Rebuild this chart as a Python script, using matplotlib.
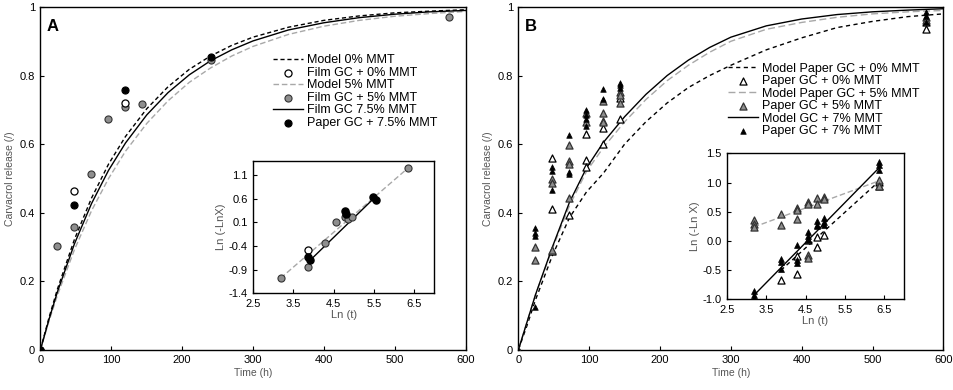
import matplotlib
matplotlib.use("Agg")
import matplotlib.pyplot as plt

plt.rcParams['font.family'] = ['Liberation Sans', 'DejaVu Sans']

# ---- panel A: model curves ----
t_model = [0, 12, 24, 48, 72, 96, 120, 150, 180, 210, 240, 270, 300, 350, 400, 450, 500, 550, 600]
a_model0 = [0, 0.093, 0.177, 0.322, 0.442, 0.541, 0.622, 0.703, 0.767, 0.818, 0.857, 0.888, 0.912,
            0.941, 0.961, 0.974, 0.983, 0.988, 0.992]
a_model5 = [0, 0.083, 0.159, 0.292, 0.405, 0.499, 0.579, 0.660, 0.726, 0.780, 0.822, 0.857, 0.885,
            0.920, 0.944, 0.961, 0.973, 0.981, 0.987]
a_model75 = [0, 0.088, 0.169, 0.309, 0.426, 0.523, 0.603, 0.685, 0.750, 0.802, 0.843, 0.875, 0.901,
             0.933, 0.954, 0.969, 0.979, 0.986, 0.990]

# panel A measured points
a_film0_t = [0, 48, 120]
a_film0 = [0, 0.464, 0.720]
a_film5_t = [0, 24, 48, 72, 96, 120, 144, 240, 576]
a_film5 = [0, 0.302, 0.359, 0.513, 0.673, 0.707, 0.718, 0.845, 0.972]
a_paper75_t = [0, 48, 120, 240]
a_paper75 = [0, 0.423, 0.759, 0.853]

# ---- panel B ----
b_model0 = [0, 0.070, 0.145, 0.275, 0.385, 0.460, 0.515, 0.600, 0.665, 0.720, 0.765, 0.800, 0.830,
            0.875, 0.910, 0.940, 0.958, 0.972, 0.980]
b_model5 = [0, 0.080, 0.160, 0.295, 0.420, 0.520, 0.590, 0.665, 0.730, 0.785, 0.830, 0.868, 0.900,
            0.935, 0.955, 0.970, 0.980, 0.986, 0.990]
b_model7 = [0, 0.080, 0.160, 0.300, 0.430, 0.530, 0.605, 0.680, 0.745, 0.800, 0.845, 0.882, 0.912,
            0.945, 0.965, 0.978, 0.986, 0.991, 0.995]

b_paper0_t = [0, 48, 48, 48, 72, 96, 96, 96, 120, 120, 144, 144, 576, 576]
b_paper0 = [0, 0.558, 0.410, 0.288, 0.393, 0.630, 0.553, 0.532, 0.647, 0.599, 0.734, 0.673, 0.955, 0.935]
b_paper5_t = [0, 24, 24, 48, 48, 48, 72, 72, 72, 72, 96, 96, 120, 120, 120, 120, 144, 144, 144, 576, 576]
b_paper5 = [0, 0.300, 0.262, 0.497, 0.487, 0.292, 0.596, 0.549, 0.543, 0.442, 0.691, 0.665,
            0.726, 0.692, 0.668, 0.663, 0.753, 0.744, 0.719, 0.970, 0.962]
b_paper7_t = [0, 24, 24, 24, 24, 48, 48, 48, 72, 72, 72, 96, 96, 96, 96, 120, 120, 144, 144, 144, 576, 576, 576]
b_paper7 = [0, 0.356, 0.339, 0.331, 0.124, 0.532, 0.522, 0.467, 0.627, 0.519, 0.512, 0.698, 0.684,
            0.672, 0.652, 0.760, 0.731, 0.778, 0.771, 0.763, 0.985, 0.975, 0.955]

# ---- insets: Ln(t) vs Ln(-Ln X) ----
ia_gray_x = [3.18, 3.87, 4.28, 4.56, 4.79, 4.85, 4.97, 6.36]
ia_gray_y = [-1.08, -0.85, -0.34, 0.11, 0.21, 0.17, 0.22, 1.24]
ia_open_x = [3.87]
ia_open_y = [-0.48]
ia_black_x = [3.87, 3.90, 4.79, 4.81, 5.48, 5.55]
ia_black_y = [-0.64, -0.70, 0.33, 0.28, 0.64, 0.58]
ia_fit5_x = [3.18, 6.36]
ia_fit5_y = [-1.08, 1.25]
ia_fit75_x = [3.87, 5.52]
ia_fit75_y = [-0.74, 0.62]

ib_gray_x = [3.18, 3.18, 3.18, 3.87, 3.87, 4.28, 4.28, 4.28, 4.56, 4.56, 4.56, 4.56,
             4.79, 4.79, 4.97, 4.97, 6.36, 6.36]
ib_gray_y = [0.36, 0.30, 0.24, 0.47, 0.28, 0.56, 0.53, 0.38, 0.67, 0.64, -0.24, -0.29,
             0.73, 0.64, 0.76, 0.72, 1.04, 0.95]
ib_open_x = [3.87, 4.28, 4.28, 4.56, 4.79, 4.79, 4.97, 6.36, 6.36]
ib_open_y = [-0.66, -0.56, -0.25, 0.02, -0.11, 0.07, 0.10, 1.01, 0.95]
ib_black_x = [3.18, 3.18, 3.18, 3.87, 3.87, 3.87, 4.28, 4.28, 4.28, 4.56, 4.56, 4.56,
              4.79, 4.79, 4.79, 4.97, 4.97, 4.97, 6.36, 6.36, 6.36]
ib_black_y = [-0.86, -0.92, -0.97, -0.31, -0.35, -0.47, -0.06, -0.33, -0.38, 0.16, 0.09, 0.02,
              0.34, 0.27, 0.25, 0.39, 0.33, 0.27, 1.36, 1.30, 1.21]
ib_fit0_x = [3.87, 6.36]
ib_fit0_y = [-0.50, 1.02]
ib_fit5_x = [3.18, 6.36]
ib_fit5_y = [0.24, 1.03]
ib_fit7_x = [3.18, 6.36]
ib_fit7_y = [-0.93, 1.25]

GRAY = '#8e8e8e'
LGRAY = '#a8a8a8'
LABEL = '#555555'

fig = plt.figure(figsize=(9.54, 3.9), dpi=100)
axA = fig.add_axes([0.04245, 0.1038, 0.4455, 0.8782])
axB = fig.add_axes([0.5435, 0.1038, 0.4453, 0.8782])


def style_main(ax, letter):
    ax.set_xlim(0, 600)
    ax.set_ylim(0, 1)
    ax.set_xticks(range(0, 601, 100))
    ax.set_yticks([0, 0.2, 0.4, 0.6, 0.8, 1])
    ax.set_yticklabels(['0', '0.2', '0.4', '0.6', '0.8', '1'])
    ax.tick_params(direction='in', length=3, labelsize=8, pad=4)
    ax.set_xlabel('Time (h)', fontsize=7.5, color=LABEL, labelpad=2)
    ax.set_ylabel('Carvacrol release (/)', fontsize=7.5, color=LABEL, labelpad=3)
    for s in ax.spines.values():
        s.set_linewidth(1.0)
    ax.text(0.015, 0.965, letter, transform=ax.transAxes, fontsize=12,
            fontweight='bold', va='top', ha='left')


def style_inset(ax, ylim, yticks):
    ax.set_xlim(2.5, 7.0)
    ax.set_ylim(*ylim)
    ax.set_xticks([2.5, 3.5, 4.5, 5.5, 6.5])
    ax.set_yticks(yticks)
    ax.set_yticklabels(['%.1f' % v for v in yticks])
    ax.tick_params(direction='in', length=3, labelsize=8, pad=4)
    ax.set_xlabel('Ln (t)', fontsize=8, color=LABEL, labelpad=1)
    for s in ax.spines.values():
        s.set_linewidth(1.0)


# panel A
axA.plot(t_model, a_model5, color=LGRAY, lw=1.0, ls=(0, (4, 2)), label='Model 5% MMT', zorder=2)
axA.plot(t_model, a_model75, color='black', lw=1.0, label='Film GC 7.5% MMT', zorder=2)
axA.plot(t_model, a_model0, color='black', lw=1.0, ls=(0, (3, 2)), label='Model 0% MMT', zorder=2)
axA.scatter(a_film5_t, a_film5, s=26, c=GRAY, edgecolors='#333333', linewidths=0.8,
            label='Film GC + 5% MMT', zorder=3)
axA.scatter(a_film0_t, a_film0, s=26, c='white', edgecolors='black', linewidths=0.9,
            label='Film GC + 0% MMT', zorder=4)
axA.scatter(a_paper75_t, a_paper75, s=26, c='black', edgecolors='black', linewidths=0.8,
            label='Paper GC + 7.5% MMT', zorder=5)
style_main(axA, 'A')
hA, lA = axA.get_legend_handles_labels()
orderA = ['Model 0% MMT', 'Film GC + 0% MMT', 'Model 5% MMT', 'Film GC + 5% MMT',
          'Film GC 7.5% MMT', 'Paper GC + 7.5% MMT']
axA.legend([hA[lA.index(n)] for n in orderA], orderA, loc='upper left',
           bbox_to_anchor=(0.548, 0.862), frameon=False, fontsize=9, handlelength=2.4,
           handletextpad=0.3, labelspacing=0.04, borderpad=0, borderaxespad=0)

# panel B
axB.plot(t_model, b_model0, color='black', lw=1.0, ls=(0, (3, 2.5)), label='Model Paper GC + 0% MMT', zorder=2)
axB.plot(t_model, b_model5, color=LGRAY, lw=1.0, ls=(0, (5, 2.5)), label='Model Paper GC + 5% MMT', zorder=2)
axB.plot(t_model, b_model7, color='black', lw=1.0, label='Model GC + 7% MMT', zorder=2)
axB.scatter(b_paper0_t, b_paper0, s=26, marker='^', c='white', edgecolors='black', linewidths=0.9,
            label='Paper GC + 0% MMT', zorder=3)
axB.scatter(b_paper5_t, b_paper5, s=26, marker='^', c=GRAY, edgecolors='#333333', linewidths=0.9,
            label='Paper GC + 5% MMT', zorder=4)
axB.scatter(b_paper7_t, b_paper7, s=16, marker='^', c='black', edgecolors='black', linewidths=0.5,
            label='Paper GC + 7% MMT', zorder=5)
style_main(axB, 'B')
hB, lB = axB.get_legend_handles_labels()
orderB = ['Model Paper GC + 0% MMT', 'Paper GC + 0% MMT', 'Model Paper GC + 5% MMT',
          'Paper GC + 5% MMT', 'Model GC + 7% MMT', 'Paper GC + 7% MMT']
axB.legend([hB[lB.index(n)] for n in orderB], orderB, loc='upper left',
           bbox_to_anchor=(0.494, 0.838), frameon=False, fontsize=9, handlelength=2.4,
           handletextpad=0.3, labelspacing=0.04, borderpad=0, borderaxespad=0)

# inset A
insA = fig.add_axes([0.2655, 0.2479, 0.1894, 0.340])
insA.plot(ia_fit5_x, ia_fit5_y, color=LGRAY, lw=1.0, ls=(0, (4, 2)), zorder=2)
insA.plot(ia_fit75_x, ia_fit75_y, color='black', lw=1.0, zorder=2)
insA.scatter(ia_gray_x, ia_gray_y, s=26, c=GRAY, edgecolors='#333333', linewidths=0.8, zorder=3)
insA.scatter(ia_open_x, ia_open_y, s=26, c='white', edgecolors='black', linewidths=0.9, zorder=4)
insA.scatter(ia_black_x, ia_black_y, s=26, c='black', zorder=5)
style_inset(insA, (-1.4, 1.4), [-1.4, -0.9, -0.4, 0.1, 0.6, 1.1])
insA.set_ylabel('Ln (-LnX)', fontsize=8, color=LABEL, labelpad=2)

# inset B
insB = fig.add_axes([0.7621, 0.2321, 0.1855, 0.3744])
insB.plot(ib_fit5_x, ib_fit5_y, color=LGRAY, lw=1.0, ls=(0, (4, 2)), zorder=2)
insB.plot(ib_fit0_x, ib_fit0_y, color='black', lw=1.0, ls=(0, (3, 2.5)), zorder=2)
insB.plot(ib_fit7_x, ib_fit7_y, color='black', lw=1.0, zorder=2)
insB.scatter(ib_open_x, ib_open_y, s=26, marker='^', c='white', edgecolors='black', linewidths=0.9, zorder=3)
insB.scatter(ib_gray_x, ib_gray_y, s=26, marker='^', c=GRAY, edgecolors='#333333', linewidths=0.9, zorder=4)
insB.scatter(ib_black_x, ib_black_y, s=18, marker='^', c='black', linewidths=0.5, zorder=5)
style_inset(insB, (-1.0, 1.5), [-1.0, -0.5, 0.0, 0.5, 1.0, 1.5])
insB.set_ylabel('Ln (-Ln X)', fontsize=8, color=LABEL, labelpad=2)

fig.savefig('out.png', dpi=100)
